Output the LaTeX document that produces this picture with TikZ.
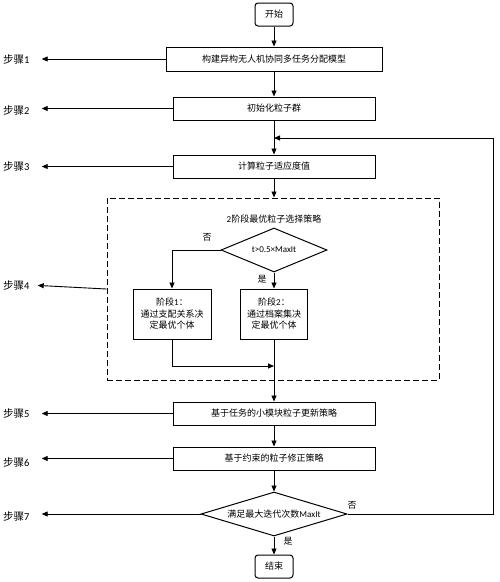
\documentclass[tikz,border=0pt]{standalone}
\usepackage{fontspec}
\setmainfont{Noto Sans CJK SC}
\newfontfamily\lat{Carlito}
\usetikzlibrary{arrows.meta,shapes.geometric,calc}
\begin{document}
\begin{tikzpicture}[x=1pt,y=-1pt,
  every node/.style={font=\fontsize{9}{11.5}\selectfont},
  box/.style={draw,line width=1pt,inner sep=0pt,minimum height=23pt,align=center},
  term/.style={box,rounded corners=3pt,minimum width=38pt},
  dia/.style={draw,line width=1pt,diamond,inner sep=0pt},
  steplbl/.style={anchor=west,inner sep=0pt,font=\fontsize{10.5}{12}\selectfont},
  yn/.style={inner sep=0pt,font=\fontsize{9}{11}\selectfont},
  arr/.style={line width=0.9pt,-{Triangle[length=6pt,width=5pt]}},
  ln/.style={line width=0.9pt}]
\useasboundingbox (0,0) rectangle (500,582);
% main column
\node[term] (start) at (274,14.5) {开始};
\node[box,minimum width=216pt,minimum height=24pt] (b1) at (274,59) {构建异构无人机协同多任务分配模型};
\node[box,minimum width=202pt] (b2) at (274,108.5) {初始化粒子群};
\node[box,minimum width=202pt] (b3) at (274,166.5) {计算粒子适应度值};
\node[draw,dash pattern=on 6pt off 3pt,line width=1pt,minimum width=332pt,minimum height=182pt,inner sep=0pt] (dbox) at (273,289) {};
\node (title) at (274,219) {{\lat 2}阶段最优粒子选择策略};
\node[dia,minimum width=106pt,minimum height=44pt,aspect=2.4] (d1) at (274,250) {\lat t>0.5×MaxIt};
\node[box,minimum width=78pt,minimum height=50pt] (bA) at (172,314) {阶段{\lat 1}：\\通过支配关系决\\定最优个体};
\node[box,minimum width=67pt,minimum height=50pt] (bB) at (274,314) {阶段{\lat 2}：\\通过档案集决\\定最优个体};
\coordinate (j) at (274,366);
\node[box,minimum width=202pt] (b5) at (274,413.5) {基于任务的小模块粒子更新策略};
\node[box,minimum width=202pt] (b6) at (274,458.5) {基于约束的粒子修正策略};
\node[dia,minimum width=146pt,minimum height=44pt,aspect=3.3] (d2) at (274,514) {满足最大迭代次数{\lat MaxIt}};
\node[term] (end) at (274,566.5) {结束};
\coordinate (loop) at (274,138);
\coordinate (rc) at (493,514);
% step labels
\node[steplbl] (s1) at (3,59) {步骤{\lat 1}};
\node[steplbl] (s2) at (3,110) {步骤{\lat 2}};
\node[steplbl] (s3) at (3,166) {步骤{\lat 3}};
\node[steplbl] (s4) at (3,285) {步骤{\lat 4}};
\node[steplbl] (s5) at (3,413) {步骤{\lat 5}};
\node[steplbl] (s6) at (3,462) {步骤{\lat 6}};
\node[steplbl] (s7) at (3,516) {步骤{\lat 7}};
% yes/no labels
\node[yn] (n1) at (207,237) {否};
\node[yn] (y1) at (262,279) {是};
\node[yn] (n2) at (352,505) {否};
\node[yn] (y2) at (288,541) {是};
% main flow
\draw[arr] (start.south) -- (b1.north);
\draw[arr] (b1.south) -- (b2.north);
\draw[arr] (b2.south) -- (b3.north);
\draw[arr] (b3.south) -- (dbox.north -| b3.south);
\draw[arr] (d1.west) -| (bA.north);
\draw[arr] (d1.south) -- (bB.north);
\draw[arr] (bA.south) |- (j);
\draw[arr] (bB.south) -- (b5.north);
\draw[arr] (b5.south) -- (b6.north);
\draw[arr] (b6.south) -- (d2.north);
\draw[arr] (d2.south) -- (end.north);
\draw[arr] (d2.east) -- (rc) |- (loop);
% step arrows
\draw[arr,shorten >=12pt] (b1.west) -- (b1.west -| s1.east);
\draw[arr,shorten >=12pt] (b2.west) -- (b2.west -| s2.east);
\draw[arr,shorten >=12pt] (b3.west) -- (b3.west -| s3.east);
\draw[arr,shorten >=8pt] (dbox.west) -- (s4.east);
\draw[arr,shorten >=12pt] (b5.west) -- (b5.west -| s5.east);
\draw[arr,shorten >=12pt] (b6.west) -- (b6.west -| s6.east);
\draw[arr,shorten >=12pt] (d2.west) -- (d2.west -| s7.east);
\end{tikzpicture}
\end{document}
